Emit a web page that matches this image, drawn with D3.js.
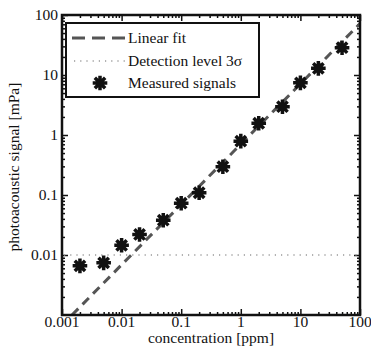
<!DOCTYPE html>
<html>
<head>
<meta charset="utf-8">
<script src="https://cdn.jsdelivr.net/npm/d3@7"></script>
<style>
  body { margin: 0; background: #fff; }
  text { font-family: "Liberation Serif", "Times New Roman", serif; font-size: 15.5px; fill: #111; }
</style>
</head>
<body>
<div class="container"></div>
<script>
// measured signals
const conc = [0.002, 0.005, 0.01, 0.02, 0.05, 0.1, 0.2, 0.5, 1, 2, 5, 10, 20, 50];
const signal = [0.0066, 0.0074, 0.0145, 0.022, 0.038, 0.073, 0.109, 0.296, 0.79, 1.57, 2.96, 7.4, 12.9, 28.5];

// linear fit end points
const fitConc = [0.00147, 100];
const fitSignal = [0.001, 72];

const detectionLevel = 0.01;

const xTicks = [0.001, 0.01, 0.1, 1, 10, 100];
const xTickLabels = ['0.001', '0.01', '0.1', '1', '10', '100'];
const yTicks = [0.01, 0.1, 1, 10, 100];
const yTickLabels = ['0.01', '0.1', '1', '10', '100'];

const legendLabels = ['Linear fit', 'Detection level 3σ', 'Measured signals'];

const WIDTH = 371;
const HEIGHT = 355;
const LEFT = 62, RIGHT = 360, TOP = 15, BOTTOM = 315;

let svg = d3.select('.container').append('svg')
    .attr('width', WIDTH)
    .attr('height', HEIGHT);

let xScale = d3.scaleLog().domain([0.001, 100]).range([LEFT, RIGHT]);
let yScale = d3.scaleLog().domain([0.001, 100]).range([BOTTOM, TOP]);

const minorX = xScale.ticks().filter(v => !xTicks.includes(v));
const minorY = yScale.ticks().filter(v => !yTicks.includes(v) && v !== 0.001);

// ticks on all four sides, pointing inward
const drawTicks = function (axisFn, scale, pos, values, size) {
    svg.append('g')
        .attr('transform', pos)
        .call(axisFn(scale).tickValues(values).tickSize(-size).tickFormat(''))
        .call(g => g.select('.domain').remove())
        .call(g => g.selectAll('line').attr('stroke', '#111').attr('stroke-width', 1.5));
};

drawTicks(d3.axisBottom, xScale, `translate(0,${BOTTOM})`, xTicks, 6);
drawTicks(d3.axisBottom, xScale, `translate(0,${BOTTOM})`, minorX, 3);
drawTicks(d3.axisTop, xScale, `translate(0,${TOP})`, xTicks, 6);
drawTicks(d3.axisTop, xScale, `translate(0,${TOP})`, minorX, 3);
drawTicks(d3.axisLeft, yScale, `translate(${LEFT},0)`, yTicks, 6);
drawTicks(d3.axisLeft, yScale, `translate(${LEFT},0)`, minorY, 3);
drawTicks(d3.axisRight, yScale, `translate(${RIGHT},0)`, yTicks, 6);
drawTicks(d3.axisRight, yScale, `translate(${RIGHT},0)`, minorY, 3);

// tick labels
svg.append('g').selectAll('text').data(xTicks)
    .enter().append('text')
    .attr('x', d => xScale(d))
    .attr('y', BOTTOM + 12)
    .attr('text-anchor', 'middle')
    .text((d, i) => xTickLabels[i]);

svg.append('g').selectAll('text').data(yTicks)
    .enter().append('text')
    .attr('x', LEFT - 4)
    .attr('y', d => yScale(d) + 5)
    .attr('text-anchor', 'end')
    .text((d, i) => yTickLabels[i]);

svg.append('text')
    .attr('text-anchor', 'middle')
    .attr('x', (LEFT + RIGHT) / 2)
    .attr('y', 343)
    .text('concentration [ppm]');

svg.append('text')
    .attr('text-anchor', 'middle')
    .attr('transform', `translate(19, ${(TOP + BOTTOM) / 2 + 2})rotate(-90)`)
    .text('photoacoustic signal [mPa]');

let plot = svg.append('g');

// detection level
plot.append('line')
    .attr('x1', LEFT + 2).attr('x2', RIGHT - 2)
    .attr('y1', yScale(detectionLevel)).attr('y2', yScale(detectionLevel))
    .attr('stroke', '#999').attr('stroke-width', 1.5)
    .attr('stroke-dasharray', '1.2,5');

// linear fit
let line = d3.line()
    .x(d => xScale(d[0]))
    .y(d => yScale(d[1]));

plot.append('path')
    .attr('d', line(d3.zip(fitConc, fitSignal)))
    .attr('fill', 'none')
    .attr('stroke', '#555')
    .attr('stroke-width', 3)
    .attr('stroke-dasharray', '9,6');

// asterisk marker
const star = function (r) {
    let d = '';
    for (let k = 0; k < 4; k++) {
        const a = k * Math.PI / 4;
        const dx = r * Math.cos(a), dy = r * Math.sin(a);
        d += `M${-dx},${-dy}L${dx},${dy}`;
    }
    return d;
};

plot.selectAll('path.pt').data(d3.zip(conc, signal))
    .enter().append('path')
    .attr('class', 'pt')
    .attr('transform', d => `translate(${xScale(d[0])},${yScale(d[1])})`)
    .attr('d', star(7.3))
    .attr('stroke', '#111')
    .attr('stroke-width', 3.5);

// frame
svg.append('rect')
    .attr('x', LEFT).attr('y', TOP)
    .attr('width', RIGHT - LEFT).attr('height', BOTTOM - TOP)
    .attr('fill', 'none')
    .attr('stroke', '#111')
    .attr('stroke-width', 2.5);

// legend
let legend = svg.append('g');
legend.append('rect')
    .attr('x', 66).attr('y', 23)
    .attr('width', 193).attr('height', 74)
    .attr('fill', '#fff')
    .attr('stroke', '#111')
    .attr('stroke-width', 2);

const rowY = [38, 61, 83];
legend.append('line')
    .attr('x1', 72).attr('x2', 125).attr('y1', rowY[0]).attr('y2', rowY[0])
    .attr('stroke', '#555').attr('stroke-width', 3).attr('stroke-dasharray', '13,7');
legend.append('line')
    .attr('x1', 74).attr('x2', 125).attr('y1', rowY[1]).attr('y2', rowY[1])
    .attr('stroke', '#999').attr('stroke-width', 1.5).attr('stroke-dasharray', '1.2,5');
legend.append('path')
    .attr('transform', `translate(100,${rowY[2]})`)
    .attr('d', star(7.3))
    .attr('stroke', '#111').attr('stroke-width', 3.5);

legend.selectAll('text.lbl').data(legendLabels)
    .enter().append('text')
    .attr('class', 'lbl')
    .attr('x', 128)
    .attr('y', (d, i) => rowY[i] + 5)
    .text(d => d);
</script>
</body>
</html>
